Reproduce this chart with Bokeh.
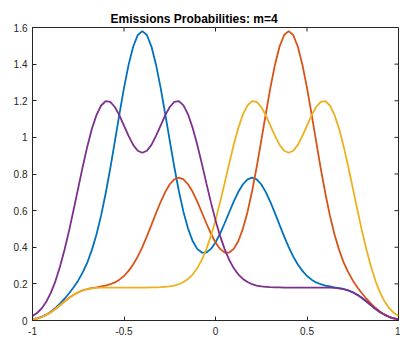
import numpy as np
from bokeh.plotting import figure
from bokeh.models import Range1d, FixedTicker
from bokeh.embed import file_html
from bokeh.resources import INLINE

x = np.linspace(-1, 1, 81)

blue = [0.006, 0.012, 0.020, 0.032, 0.048, 0.068, 0.092, 0.119, 0.149, 0.182,
        0.219, 0.264, 0.318, 0.387, 0.471, 0.574, 0.695, 0.831, 0.978, 1.127,
        1.270, 1.396, 1.495, 1.558, 1.580, 1.559, 1.496, 1.397, 1.272, 1.129,
        0.982, 0.838, 0.706, 0.593, 0.502, 0.434, 0.391, 0.371, 0.371, 0.391,
        0.426, 0.474, 0.531, 0.591, 0.650, 0.703, 0.744, 0.771, 0.780, 0.771,
        0.744, 0.701, 0.647, 0.586, 0.522, 0.459, 0.401, 0.349, 0.306, 0.271,
        0.243, 0.223, 0.208, 0.198, 0.191, 0.186, 0.181, 0.177, 0.172, 0.165,
        0.154, 0.141, 0.124, 0.104, 0.083, 0.063, 0.045, 0.031, 0.019, 0.011, 0.006]

red = [0.006, 0.011, 0.019, 0.031, 0.045, 0.063, 0.083, 0.104, 0.124, 0.141,
       0.154, 0.165, 0.172, 0.177, 0.181, 0.186, 0.191, 0.198, 0.208, 0.223,
       0.243, 0.271, 0.306, 0.349, 0.401, 0.459, 0.522, 0.586, 0.647, 0.701,
       0.744, 0.771, 0.780, 0.771, 0.744, 0.703, 0.650, 0.591, 0.531, 0.474,
       0.426, 0.391, 0.371, 0.371, 0.391, 0.434, 0.502, 0.593, 0.706, 0.838,
       0.982, 1.129, 1.272, 1.397, 1.496, 1.559, 1.580, 1.558, 1.495, 1.396,
       1.270, 1.127, 0.978, 0.831, 0.695, 0.574, 0.471, 0.387, 0.318, 0.264,
       0.219, 0.182, 0.149, 0.119, 0.092, 0.068, 0.048, 0.032, 0.020, 0.012, 0.006]

yellow = [0.006, 0.011, 0.019, 0.031, 0.045, 0.063, 0.083, 0.104, 0.123, 0.140,
          0.154, 0.164, 0.171, 0.175, 0.178, 0.179, 0.180, 0.180, 0.180, 0.180,
          0.180, 0.180, 0.180, 0.180, 0.180, 0.180, 0.181, 0.181, 0.182, 0.184,
          0.186, 0.191, 0.198, 0.210, 0.227, 0.251, 0.285, 0.331, 0.390, 0.462,
          0.548, 0.645, 0.750, 0.858, 0.961, 1.052, 1.126, 1.175, 1.198, 1.194,
          1.166, 1.120, 1.064, 1.008, 0.959, 0.927, 0.916, 0.927, 0.959, 1.008,
          1.064, 1.120, 1.166, 1.194, 1.198, 1.174, 1.123, 1.048, 0.952, 0.842,
          0.724, 0.606, 0.491, 0.386, 0.293, 0.214, 0.151, 0.102, 0.066, 0.041, 0.025]

purple = [0.025, 0.041, 0.066, 0.102, 0.151, 0.214, 0.293, 0.386, 0.491, 0.606,
          0.724, 0.842, 0.952, 1.048, 1.123, 1.174, 1.198, 1.194, 1.166, 1.120,
          1.064, 1.008, 0.959, 0.927, 0.916, 0.927, 0.959, 1.008, 1.064, 1.120,
          1.166, 1.194, 1.198, 1.175, 1.126, 1.052, 0.961, 0.858, 0.750, 0.645,
          0.548, 0.462, 0.390, 0.331, 0.285, 0.251, 0.227, 0.210, 0.198, 0.191,
          0.186, 0.184, 0.182, 0.181, 0.181, 0.180, 0.180, 0.180, 0.180, 0.180,
          0.180, 0.180, 0.180, 0.180, 0.180, 0.179, 0.178, 0.175, 0.171, 0.164,
          0.154, 0.140, 0.123, 0.104, 0.083, 0.063, 0.045, 0.031, 0.019, 0.011, 0.006]

x_ticks = [-1, -0.5, 0, 0.5, 1]
x_tick_labels = ["-1", "-0.5", "0", "0.5", "1"]
y_ticks = [0, 0.2, 0.4, 0.6, 0.8, 1.0, 1.2, 1.4, 1.6]
y_tick_labels = ["0", "0.2", "0.4", "0.6", "0.8", "1", "1.2", "1.4", "1.6"]

title_text = "Emissions Probabilities: m=4"
series = [(blue, "#0072BD"), (red, "#D95319"), (yellow, "#EDB120"), (purple, "#7E2F8E")]

AX = "#262626"
FONT = "Liberation Sans"
X0, X1 = -1, 1
Y0, Y1 = 0, 1.6

p = figure(width=400, height=341, output_backend="svg", toolbar_location=None,
           x_range=Range1d(X0, X1), y_range=Range1d(Y0, Y1),
           min_border_left=32, min_border_right=2, min_border_bottom=21, min_border_top=27)

p.title.text = title_text
p.title.text_font = FONT
p.title.text_font_size = "12px"
p.title.text_font_style = "bold"
p.title.text_color = "black"
p.title.align = "left"
p.title.offset = 78
p.title.standoff = 4

p.xgrid.visible = False
p.ygrid.visible = False
p.outline_line_color = AX
p.outline_line_width = 1
p.background_fill_color = "white"
p.border_fill_color = "white"

for ys, c in series:
    p.line(x, ys, line_color=c, line_width=1.8)

def style_axis(ax, ticks, labels):
    ax.ticker = FixedTicker(ticks=ticks)
    ax.major_label_overrides = {t: l for t, l in zip(ticks, labels)}
    ax.axis_line_color = AX
    ax.major_tick_line_color = AX
    ax.major_tick_in = 4
    ax.major_tick_out = 0
    ax.minor_tick_line_color = None
    ax.major_label_text_font = FONT
    ax.major_label_text_color = AX
    ax.major_label_text_font_size = "10px"

style_axis(p.xaxis[0], x_ticks, x_tick_labels)
p.xaxis[0].major_label_standoff = 6
style_axis(p.yaxis[0], y_ticks, y_tick_labels)
p.yaxis[0].major_label_standoff = 5

# mirrored inward ticks on the top and right edges (4 px long)
tx = 4 * (X1 - X0) / 366.0
ty = 4 * (Y1 - Y0) / 293.3
p.segment(x0=x_ticks, x1=x_ticks, y0=[Y1] * len(x_ticks), y1=[Y1 - ty] * len(x_ticks),
          line_color=AX, line_width=1)
p.segment(x0=[X1] * len(y_ticks), x1=[X1 - tx] * len(y_ticks), y0=y_ticks, y1=y_ticks,
          line_color=AX, line_width=1)

open("out.html", "w").write(file_html(p, INLINE))
